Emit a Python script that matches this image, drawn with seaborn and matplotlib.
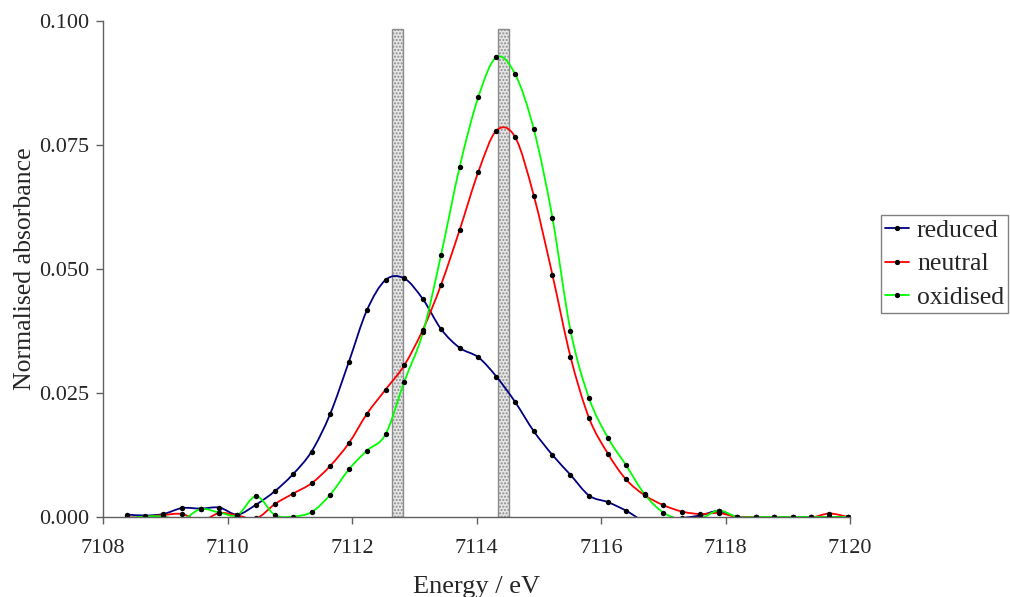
import numpy as np
import pandas as pd
import matplotlib
matplotlib.use('Agg')
import matplotlib.pyplot as plt
from matplotlib.path import Path
from matplotlib.patches import PathPatch
from matplotlib.lines import Line2D
import seaborn as sns

# Energias (eV) e absorbância normalizada
energia = [7108.38, 7108.68, 7108.97, 7109.27, 7109.57, 7109.87, 7110.16, 7110.46,
           7110.76, 7111.05, 7111.35, 7111.65, 7111.95, 7112.24, 7112.54, 7112.84,
           7113.14, 7113.43, 7113.73, 7114.03, 7114.32, 7114.62, 7114.92, 7115.22,
           7115.51, 7115.81, 7116.11, 7116.40, 7116.70, 7117.00, 7117.30, 7117.59,
           7117.89, 7118.19, 7118.49, 7118.78, 7119.08, 7119.38, 7119.67, 7119.97]

reduced = [0.0005, 0.0003, 0.0006, 0.0018, 0.0017, 0.0019, 0.0005, 0.0025,
           0.0052, 0.0086, 0.0132, 0.0208, 0.0313, 0.0417, 0.0478, 0.0481,
           0.0439, 0.0379, 0.0341, 0.0322, 0.0283, 0.0232, 0.0173, 0.0125,
           0.0085, 0.0043, 0.0030, 0.0013, -0.0008, -0.0006, -0.0002, 0.0003,
           0.0012, 0.0000, 0.0000, 0.0000, 0.0000, 0.0000, 0.0000, 0.0000]

neutral = [-0.0001, 0.0000, 0.0004, 0.0006, -0.0008, 0.0008, 0.0003, -0.0003,
           0.0026, 0.0047, 0.0068, 0.0103, 0.0149, 0.0208, 0.0257, 0.0306,
           0.0378, 0.0468, 0.0579, 0.0696, 0.0779, 0.0766, 0.0648, 0.0488,
           0.0323, 0.0199, 0.0128, 0.0076, 0.0044, 0.0024, 0.0011, 0.0006,
           0.0008, 0.0000, 0.0000, 0.0000, 0.0000, -0.0001, 0.0007, 0.0000]

oxidised = [-0.0003, 0.0001, 0.0001, -0.0005, 0.0016, 0.0009, 0.0004, 0.0042,
            0.0004, 0.0001, 0.0010, 0.0045, 0.0096, 0.0134, 0.0167, 0.0273,
            0.0372, 0.0528, 0.0706, 0.0847, 0.0927, 0.0893, 0.0782, 0.0603,
            0.0376, 0.0239, 0.0160, 0.0105, 0.0046, 0.0009, -0.0005, -0.0004,
            0.0013, 0.0000, 0.0000, 0.0000, 0.0000, 0.0000, 0.0000, 0.0000]

# Barras cinzentas verticais (posição em eV)
barras_centro = [7112.73, 7114.44]
barras_altura = [0.0984, 0.0984]
barras_largura = 0.18

series = ['reduced', 'neutral', 'oxidised']
cores = {'reduced': '#000080', 'neutral': '#FF0000', 'oxidised': '#00FF00'}

dados = pd.DataFrame({'energia': energia, 'reduced': reduced,
                      'neutral': neutral, 'oxidised': oxidised})
dados_long = dados.melt(id_vars='energia', var_name='serie', value_name='absorbancia')

sns.set_style('white')
plt.rcParams['font.family'] = ['Liberation Serif', 'DejaVu Serif']


def linha_suave(x, y):
    # curva de Bezier tipo Excel (Catmull-Rom) entre os pontos
    x = np.asarray(x, float)
    y = np.asarray(y, float)
    pts = np.column_stack([x, y])
    verts = [pts[0]]
    codes = [Path.MOVETO]
    n = len(pts)
    for i in range(n - 1):
        p0 = pts[max(i - 1, 0)]
        p1 = pts[i]
        p2 = pts[i + 1]
        p3 = pts[min(i + 2, n - 1)]
        c1 = p1 + (p2 - p0) / 6.0
        c2 = p2 - (p3 - p1) / 6.0
        verts += [c1, c2, p2]
        codes += [Path.CURVE4] * 3
    return Path(verts, codes)


fig = plt.figure(figsize=(10.10, 5.97), dpi=100)
ax = fig.add_axes([103 / 1010, 1 - 517 / 597, 747 / 1010, 496 / 597])

ax.bar(barras_centro, barras_altura, width=barras_largura, color='#e6e6e6',
       edgecolor='#8c8c8c', hatch='.....', linewidth=1.0, zorder=1)

for s in series:
    patch = PathPatch(linha_suave(dados['energia'], dados[s]), fill=False,
                      edgecolor=cores[s], linewidth=1.3, zorder=3)
    ax.add_patch(patch)

sns.scatterplot(data=dados_long, x='energia', y='absorbancia', color='black',
                s=15, linewidth=0, marker='o', legend=False, zorder=4, ax=ax)

ax.set_xlim(7108, 7120)
ax.set_ylim(0, 0.100)
ax.set_xticks(range(7108, 7121, 2))
ax.set_yticks([0.0, 0.025, 0.05, 0.075, 0.1])
ax.yaxis.set_major_formatter(matplotlib.ticker.FormatStrFormatter('%.3f'))

for lado in ['top', 'right']:
    ax.spines[lado].set_visible(False)
for lado in ['left', 'bottom']:
    ax.spines[lado].set_color('#606060')
    ax.spines[lado].set_linewidth(1.0)
    ax.spines[lado].set_zorder(5)
ax.tick_params(axis='both', direction='out', length=5, width=1.0,
               color='#606060', labelsize=16, left=True, bottom=True)
ax.tick_params(axis='y', pad=5)
ax.tick_params(axis='x', pad=11)

ax.set_xlabel('Energy / eV', fontsize=19, labelpad=13)
ax.set_ylabel('Normalised absorbance', fontsize=18.5, labelpad=2)

handles = [Line2D([], [], color=cores[s], linewidth=1.3, marker='o',
                  markersize=2.8, markerfacecolor='black',
                  markeredgecolor='black') for s in series]
leg = fig.legend(handles, series, loc='center left',
                 bbox_to_anchor=(881 / 1010, 1 - 264 / 597), fontsize=18.5,
                 frameon=True, fancybox=False, handlelength=0.95,
                 handletextpad=0.3, borderpad=0.15, labelspacing=0.42,
                 borderaxespad=0)
leg.get_frame().set_edgecolor('#606060')
leg.get_frame().set_linewidth(1.0)

fig.savefig('out.png', dpi=100)
